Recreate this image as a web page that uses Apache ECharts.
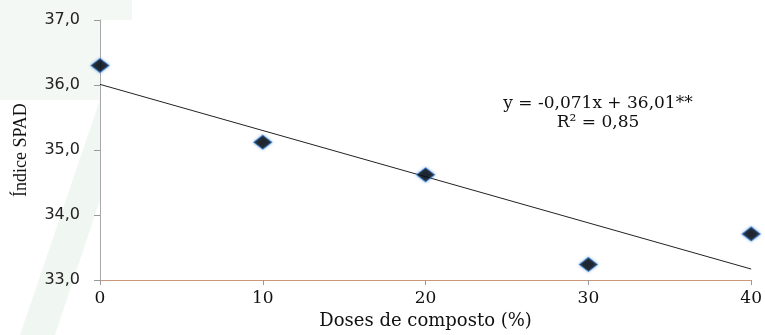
<!DOCTYPE html>
<html>
<head>
<meta charset="utf-8">
<script src="https://cdn.jsdelivr.net/npm/echarts@6/dist/echarts.min.js"></script>
<style>html,body{margin:0;padding:0;background:#fff;}#c{width:765px;height:335px;}</style>
</head>
<body>
<div id="c"></div>
<script>
const doses = [0, 10, 20, 30, 40];
const spad = [36.30, 35.12, 34.62, 33.24, 33.71];
const slope = -0.071;
const intercept = 36.01;
const trendX = [0, 40];
const yTicks = [33, 34, 35, 36, 37];
const xTicks = [0, 10, 20, 30, 40];

const chart = echarts.init(document.getElementById('c'), null, {renderer: 'canvas'});
const serif = '"DejaVu Serif", "Liberation Serif", serif';
chart.setOption({
  animation: false,
  backgroundColor: '#ffffff',
  grid: {left: 100, right: 12, top: 20, bottom: 46, containLabel: false},
  graphic: [
    {type: 'polygon', z: -10, silent: true,
     shape: {points: [[0,0],[132,0],[132,20],[100,20],[100,100],[0,100]]},
     style: {fill: 'rgba(228,239,230,0.45)'}},
    {type: 'polygon', z: -10, silent: true,
     shape: {points: [[20,335],[55,335],[100,200],[100,100]]},
     style: {fill: 'rgba(228,239,230,0.55)'}},
    {type: 'text', silent: true,
     style: {text: 'y = -0,071x + 36,01**', x: 598, y: 104, textAlign: 'center', textVerticalAlign: 'middle',
             font: '17px ' + serif, fill: '#111'}},
    {type: 'text', silent: true,
     style: {text: 'R² = 0,85', x: 598, y: 123, textAlign: 'center', textVerticalAlign: 'middle',
             font: '17px ' + serif, fill: '#111'}}
  ],
  xAxis: {
    type: 'value', min: 0, max: 40, interval: 10,
    name: 'Doses de composto (%)', nameLocation: 'middle', nameGap: 30,
    nameTextStyle: {fontFamily: serif, fontSize: 18, color: '#111'},
    axisLine: {show: true, lineStyle: {color: '#c9977a', width: 1}},
    axisTick: {show: true, inside: false, length: 5, lineStyle: {color: '#999'}},
    axisLabel: {fontFamily: serif, fontSize: 17, color: '#111', margin: 10,
                formatter: v => xTicks.includes(v) ? String(v) : ''},
    splitLine: {show: false}
  },
  yAxis: {
    type: 'value', min: 33, max: 37, interval: 1,
    name: 'Índice SPAD', nameLocation: 'middle', nameGap: 70, nameRotate: 90,
    nameTextStyle: {fontFamily: '"Liberation Serif", serif', fontSize: 18, color: '#111'},
    axisLine: {show: true, lineStyle: {color: '#a8a8a8', width: 1}},
    axisTick: {show: true, inside: false, length: 6, lineStyle: {color: '#999'}},
    axisLabel: {fontFamily: '"DejaVu Sans", sans-serif', fontSize: 16, color: '#222', margin: 20,
                formatter: v => yTicks.includes(v) ? v.toFixed(1).replace('.', ',') : ''},
    splitLine: {show: false}
  },
  series: [
    {type: 'line', data: trendX.map(x => [x, intercept + slope * x]),
     symbol: 'none', lineStyle: {color: '#222', width: 1}, z: 2, silent: true},
    {type: 'scatter', data: doses.map((d, i) => [d, spad[i]]),
     symbol: 'diamond', symbolSize: [18, 14],
     itemStyle: {color: '#000', borderColor: '#3a7fd0', borderWidth: 1,
                 shadowColor: 'rgba(50,120,210,0.6)', shadowBlur: 3}, z: 3}
  ]
});
</script>
</body>
</html>
